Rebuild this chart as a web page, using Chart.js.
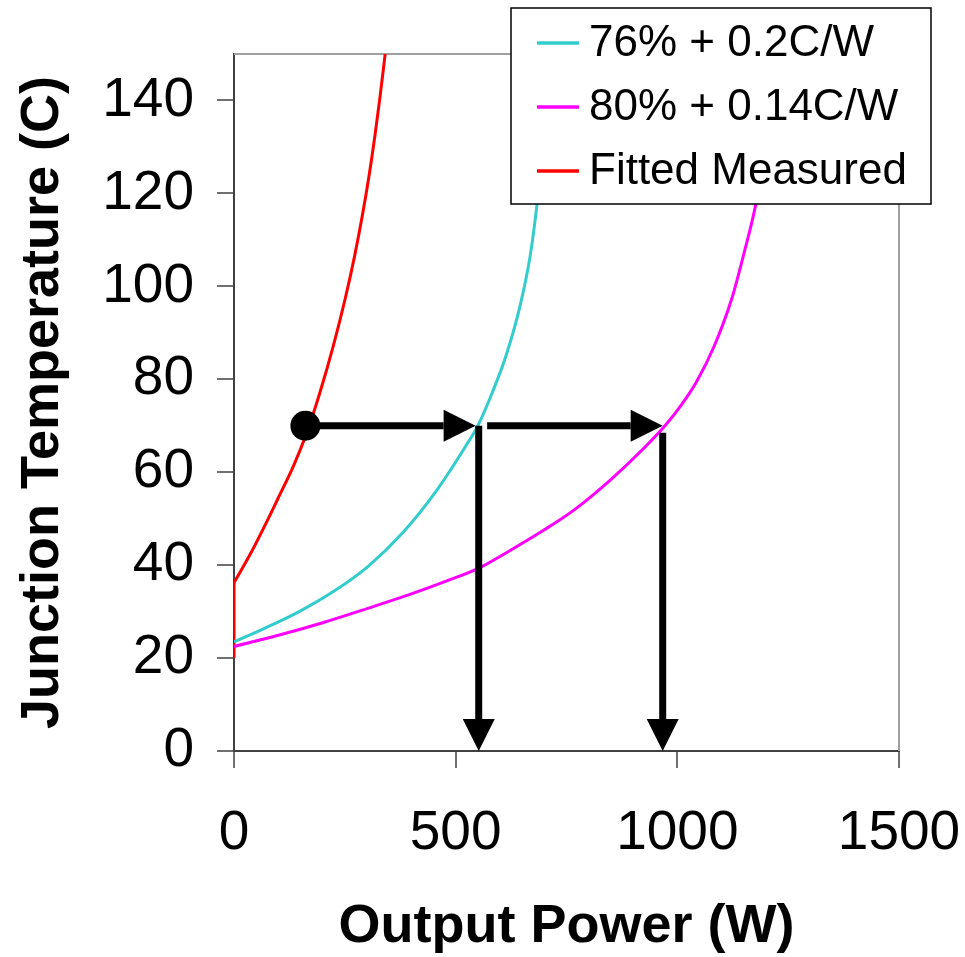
<!DOCTYPE html>
<html>
<head>
<meta charset="utf-8">
<script src="https://cdn.jsdelivr.net/npm/chart.js@4.4.1/dist/chart.umd.min.js"></script>
<style>
html,body{margin:0;padding:0;background:#fff;overflow:hidden}
canvas{display:block}
</style>
</head>
<body>
<canvas id="c" width="965" height="957"></canvas>
<script>
// ---------- data ----------
const xTickValues = [0, 500, 1000, 1500];
const yTickValues = [0, 20, 40, 60, 80, 100, 120, 140];
const xTitle = 'Output Power (W)';
const yTitle = 'Junction Temperature (C)';
const seriesLabels = ['76% + 0.2C/W', '80% + 0.14C/W', 'Fitted Measured'];

const cyanW = [0, 69, 147, 224, 302, 380, 458, 520, 551, 582, 613, 645, 668, 683, 695, 704, 711];
const cyanT = [23.5, 26.4, 30, 34.3, 39.7, 46.9, 56.2, 65.2, 70.2, 77, 84.9, 95.7, 106.5, 117.2, 128, 139, 150];

const magentaW = [0, 100, 200, 302, 400, 480, 551, 620, 700, 769, 850, 925, 974, 1010, 1043, 1083, 1122, 1150, 1176, 1192, 1204, 1213, 1219];
const magentaT = [22.5, 24.9, 27.6, 30.7, 33.8, 36.6, 39.3, 43.0, 47.6, 52.0, 58.4, 65.2, 70.2, 74.6, 79.4, 87.1, 97.1, 107, 117.2, 126, 135, 143, 150];

const redW = [0, 38, 69, 100, 134, 165, 194, 224, 250, 272, 290, 305, 318, 329, 341];
const redT = [36.2, 42.6, 48.4, 54.5, 61.3, 68.7, 77.2, 87.2, 97.0, 106.5, 115.5, 124, 132.5, 140.5, 150];
const redRiserW = [0, 0];
const redRiserT = [20, 36.2];

const pointW = [161];
const pointT = [70];

const arrow1W = [161, 545];  const arrow1T = [70, 70];
const arrow2W = [571, 967];  const arrow2T = [70, 70];
const drop1W  = [552, 552];  const drop1T  = [70, 0];
const drop2W  = [967, 967];  const drop2T  = [68.5, 0];

// ---------- helpers ----------
const pts = (xs, ys) => xs.map((x, i) => ({x, y: ys[i]}));
const FONT = '"Liberation Sans", Arial, Helvetica, sans-serif';
const CYAN = '#33CCCC', MAGENTA = '#FF00FF', RED = '#FF0000';

const curve = (label, data, color, inLegend) => ({
  type: 'line', label, data, borderColor: color, backgroundColor: color,
  borderWidth: 3, pointRadius: 0, fill: false, cubicInterpolationMode: 'monotone',
  inLegend, order: 3
});
const arrow = (data, head) => ({
  type: 'line', label: 'arrow', data, borderColor: '#000', backgroundColor: '#000',
  borderWidth: 7, borderCapStyle: 'butt', pointRadius: 0, fill: false,
  arrowHead: head, order: 2
});

// ---------- plugins ----------
const framePlugin = {
  id: 'frame',
  beforeDatasetsDraw(chart) {
    const {ctx, chartArea: a} = chart;
    ctx.save();
    ctx.strokeStyle = '#a0a0a0';
    ctx.lineWidth = 2;
    ctx.beginPath();
    ctx.moveTo(a.left, a.top);
    ctx.lineTo(a.right, a.top);
    ctx.lineTo(a.right, a.bottom);
    ctx.stroke();
    ctx.restore();
  }
};

function headGeom(meta, len, half) {
  const n = meta.data.length;
  const p1 = meta.data[n - 2], p2 = meta.data[n - 1];
  let dx = p2.x - p1.x, dy = p2.y - p1.y;
  const d = Math.hypot(dx, dy) || 1;
  dx /= d; dy /= d;
  const px = -dy, py = dx;
  const bx = p2.x - dx * len, by = p2.y - dy * len;
  return {tip: [p2.x, p2.y], b1: [bx + px * half, by + py * half], b2: [bx - px * half, by - py * half],
          dx, dy, px, py, bx, by};
}

const arrowPlugin = {
  id: 'arrowHeads',
  beforeDatasetDraw(chart, args) {
    const ds = chart.data.datasets[args.index];
    if (!ds.arrowHead) return;
    const g = headGeom(args.meta, 32, 16);
    const ctx = chart.ctx;
    ctx.save();
    ctx.beginPath();
    ctx.rect(0, 0, chart.width, chart.height);
    const w = 20, e = 6;
    ctx.moveTo(g.bx + g.px * w, g.by + g.py * w);
    ctx.lineTo(g.tip[0] + g.dx * e + g.px * w, g.tip[1] + g.dy * e + g.py * w);
    ctx.lineTo(g.tip[0] + g.dx * e - g.px * w, g.tip[1] + g.dy * e - g.py * w);
    ctx.lineTo(g.bx - g.px * w, g.by - g.py * w);
    ctx.closePath();
    ctx.clip('evenodd');
  },
  afterDatasetDraw(chart, args) {
    const ds = chart.data.datasets[args.index];
    if (!ds.arrowHead) return;
    const ctx = chart.ctx;
    ctx.restore();
    const g = headGeom(args.meta, 32, 16);
    ctx.save();
    ctx.fillStyle = '#000';
    ctx.beginPath();
    ctx.moveTo(g.tip[0], g.tip[1]);
    ctx.lineTo(g.b1[0], g.b1[1]);
    ctx.lineTo(g.b2[0], g.b2[1]);
    ctx.closePath();
    ctx.fill();
    ctx.restore();
  }
};

const legendPlugin = {
  id: 'boxLegend',
  afterDatasetsDraw(chart, args, o) {
    const ctx = chart.ctx;
    ctx.save();
    ctx.fillStyle = '#fff';
    ctx.fillRect(o.x, o.y, o.w, o.h);
    ctx.strokeStyle = '#000';
    ctx.lineWidth = 1.5;
    ctx.strokeRect(o.x, o.y, o.w, o.h);
    const items = chart.data.datasets.filter(d => d.inLegend);
    items.forEach((d, i) => {
      const y = o.y + o.first + i * o.gap;
      ctx.strokeStyle = d.borderColor;
      ctx.lineWidth = 3.5;
      ctx.beginPath();
      ctx.moveTo(o.x + 26, y);
      ctx.lineTo(o.x + 68, y);
      ctx.stroke();
      ctx.fillStyle = '#000';
      ctx.font = o.font;
      ctx.textAlign = 'left';
      ctx.textBaseline = 'middle';
      ctx.fillText(d.label, o.x + 78, y + 1);
    });
    ctx.restore();
  }
};

// ---------- chart ----------
new Chart(document.getElementById('c'), {
  data: {
    datasets: [
      curve(seriesLabels[0], pts(cyanW, cyanT), CYAN, true),
      curve(seriesLabels[1], pts(magentaW, magentaT), MAGENTA, true),
      curve(seriesLabels[2], pts(redW, redT), RED, true),
      Object.assign(curve(seriesLabels[2], pts(redRiserW, redRiserT), RED, false), {cubicInterpolationMode: 'default', tension: 0}),
      arrow(pts(arrow1W, arrow1T), true),
      arrow(pts(arrow2W, arrow2T), true),
      arrow(pts(drop1W, drop1T), true),
      arrow(pts(drop2W, drop2T), true),
      {type: 'scatter', label: 'point', data: pts(pointW, pointT), pointRadius: 15,
       pointBackgroundColor: '#000', pointBorderColor: '#000', pointBorderWidth: 0, order: 1}
    ]
  },
  options: {
    responsive: false,
    animation: false,
    devicePixelRatio: 1,
    layout: {padding: {top: 54, right: 66, left: 0, bottom: 0}},
    plugins: {
      legend: {display: false},
      tooltip: {enabled: false},
      boxLegend: {x: 511, y: 8, w: 420, h: 196, first: 35, gap: 64, font: '44px ' + FONT}
    },
    scales: {
      x: {
        type: 'linear', min: 0, max: 1500,
        afterBuildTicks: s => { s.ticks = xTickValues.map(v => ({value: v})); },
        afterFit: s => { s.height = 206; s.paddingLeft = 0; s.paddingRight = 0; },
        ticks: {color: '#000', font: {family: FONT, size: 55}, padding: 33, callback: v => String(v)},
        grid: {drawOnChartArea: false, drawTicks: true, tickLength: 17, color: '#707070', lineWidth: 2},
        border: {display: true, color: '#404040', width: 2},
        title: {display: true, text: xTitle, color: '#000', font: {family: FONT, size: 54, weight: 'bold', lineHeight: 1.1}, padding: {top: 0, bottom: 0}}
      },
      y: {
        type: 'linear', min: 0, max: 150,
        afterBuildTicks: s => { s.ticks = yTickValues.map(v => ({value: v})); },
        afterFit: s => { s.width = 234; s.paddingTop = 0; s.paddingBottom = 0; },
        ticks: {color: '#000', font: {family: FONT, size: 55}, padding: 23, callback: v => String(v)},
        grid: {drawOnChartArea: false, drawTicks: true, tickLength: 17, color: '#707070', lineWidth: 2},
        border: {display: true, color: '#404040', width: 2},
        title: {display: true, text: yTitle, color: '#000', font: {family: FONT, size: 54, weight: 'bold', lineHeight: 1.2}, padding: {top: 11, bottom: 0}}
      }
    }
  },
  plugins: [framePlugin, arrowPlugin, legendPlugin]
});
</script>
</body>
</html>
